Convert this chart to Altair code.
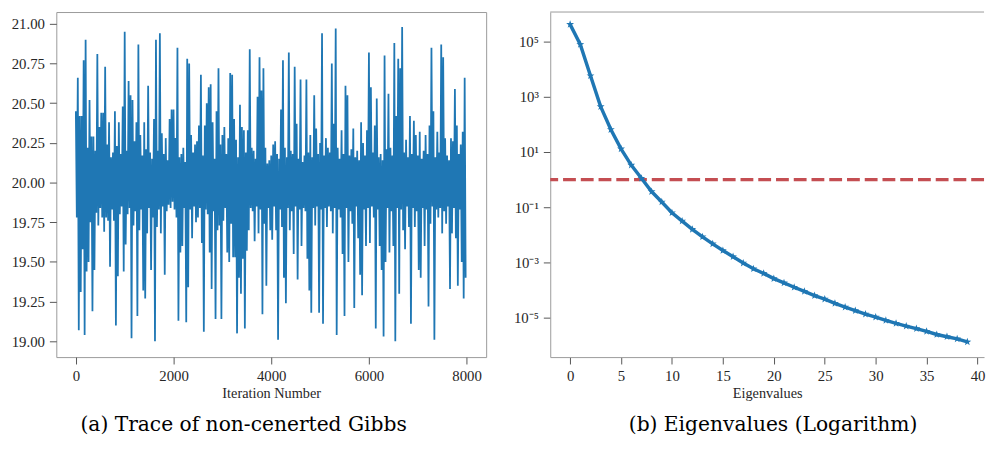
import altair as alt
import pandas as pd

# ---------------- data ----------------
# Trace of the non-centred Gibbs sampler (8000 iterations), read as
# alternating local maxima / minima every 20 iterations.
trace_high = [
    20.45, 20.66, 20.42, 20.42, 20.77, 20.90, 20.22, 20.52, 20.29, 20.29,
    20.20, 20.81, 20.35, 20.44, 20.44, 20.73, 20.24, 20.38, 20.16, 20.19,
    20.45, 20.23, 20.38, 20.18, 20.48, 20.95, 20.20, 20.64, 20.55, 20.52,
    20.26, 20.38, 20.87, 20.30, 20.17, 20.38, 20.21, 20.61, 20.19, 20.15,
    20.40, 20.90, 20.20, 20.94, 20.31, 20.18, 20.28, 20.14, 20.40, 20.46,
    20.46, 20.28, 20.85, 20.16, 20.18, 20.22, 20.13, 20.78, 20.75, 20.30,
    20.19, 20.24, 20.26, 20.36, 20.68, 20.17, 20.36, 20.50, 20.60, 20.62,
    20.38, 20.15, 20.45, 20.72, 20.24, 20.30, 20.35, 20.18, 20.28, 20.69,
    20.68, 20.40, 20.27, 20.16, 20.49, 20.35, 20.33, 20.19, 20.33, 20.84,
    20.22, 20.20, 20.15, 20.54, 20.79, 20.58, 20.72, 20.22, 20.12, 20.14,
    20.17, 20.24, 20.26, 20.18, 20.15, 20.46, 20.77, 20.22, 20.16, 20.82,
    20.20, 20.18, 20.73, 20.37, 20.15, 20.65, 20.13, 20.17, 20.65, 20.19,
    20.30, 20.16, 20.55, 20.34, 20.18, 20.25, 20.94, 20.17, 20.28, 20.22,
    20.19, 20.75, 20.37, 20.97, 20.22, 20.15, 20.33, 20.18, 20.61, 20.55,
    20.17, 20.21, 20.34, 20.16, 20.20, 20.14, 20.38, 20.25, 20.17, 20.33,
    20.82, 20.60, 20.19, 20.36, 20.53, 20.16, 20.18, 20.14, 20.80, 20.21,
    20.56, 20.22, 20.17, 20.88, 20.42, 20.78, 20.72, 20.98, 20.19, 20.27,
    20.16, 20.42, 20.18, 20.39, 20.30, 20.17, 20.32, 20.15, 20.20, 20.30,
    20.18, 20.36, 20.85, 20.45, 20.16, 20.32, 20.19, 20.87, 20.79, 20.28,
    20.17, 20.14, 20.28, 20.26, 20.59, 20.36, 20.18, 20.24, 20.32, 20.66,
]
trace_low = [
    19.78, 19.07, 19.31, 19.58, 19.04, 19.44, 19.50, 19.75, 19.19, 19.45,
    19.81, 19.73, 19.84, 19.78, 19.69, 19.78, 19.76, 19.47, 19.83, 19.76,
    19.10, 19.41, 19.80, 19.85, 19.44, 19.61, 19.80, 19.84, 19.02, 19.73,
    19.82, 19.16, 19.70, 19.83, 19.32, 19.27, 19.68, 19.84, 19.45, 19.78,
    19.00, 19.72, 19.83, 19.68, 19.85, 19.42, 19.82, 19.86, 19.84, 19.88,
    19.83, 19.78, 19.13, 19.56, 19.60, 19.84, 19.12, 19.34, 19.83, 19.65,
    19.85, 19.75, 19.78, 19.84, 19.62, 19.06, 19.83, 19.80, 19.56, 19.33,
    19.82, 19.14, 19.70, 19.73, 19.14, 19.76, 19.84, 19.56, 19.50, 19.74,
    19.53, 19.53, 19.05, 19.40, 19.30, 19.52, 19.08, 19.57, 19.70, 19.84,
    19.82, 19.63, 19.85, 19.68, 19.83, 19.17, 19.74, 19.35, 19.84, 19.70,
    19.64, 19.85, 19.70, 19.01, 19.83, 19.72, 19.40, 19.24, 19.84, 19.70,
    19.82, 19.55, 19.85, 19.39, 19.83, 19.60, 19.84, 19.82, 19.52, 19.32,
    19.18, 19.84, 19.73, 19.85, 19.18, 19.83, 19.11, 19.84, 19.72, 19.85,
    19.82, 19.68, 19.84, 19.04, 19.83, 19.78, 19.55, 19.16, 19.84, 19.50,
    19.82, 19.74, 19.21, 19.85, 19.65, 19.42, 19.29, 19.83, 19.60, 19.84,
    19.62, 19.85, 19.78, 19.08, 19.83, 19.60, 19.45, 19.03, 19.50, 19.84,
    19.56, 19.82, 19.60, 19.00, 19.84, 19.30, 19.83, 19.70, 19.58, 19.85,
    19.72, 19.11, 19.84, 19.72, 19.82, 19.45, 19.40, 19.84, 19.60, 19.83,
    19.22, 19.74, 19.85, 19.01, 19.83, 19.78, 19.84, 19.68, 19.82, 19.74,
    19.85, 19.33, 19.68, 19.84, 19.65, 19.35, 19.83, 19.50, 19.27, 19.40,
]
trace_step = 20

trace_y_ticks = [19.0, 19.25, 19.5, 19.75, 20.0, 20.25, 20.5, 20.75, 21.0]
trace_x_ticks = [0, 2000, 4000, 6000, 8000]

eig_index = list(range(40))
eig_values = [
    4.2e5, 7.9e4, 5.8e3, 4.4e2, 65.0, 13.0, 3.35, 1.12, 0.37, 0.155,
    0.063, 0.0316, 0.0158, 0.0085, 0.0047, 0.0027, 0.00162, 0.00095, 0.00059, 0.0004,
    2.6e-4, 1.82e-4, 1.26e-4, 8.9e-5, 6.3e-5, 4.7e-5, 3.3e-5, 2.4e-5, 1.8e-5, 1.35e-5,
    1.05e-5, 7.9e-6, 6.2e-6, 4.9e-6, 4.0e-6, 3.2e-6, 2.45e-6, 2.04e-6, 1.7e-6, 1.32e-6,
]
eig_threshold = [1.0]
eig_y_ticks = [1e5, 1e3, 1e1, 1e-1, 1e-3, 1e-5]
eig_x_ticks = [0, 5, 10, 15, 20, 25, 30, 35, 40]

caption_a = "(a) Trace of non-cenerted Gibbs"
caption_b = "(b) Eigenvalues (Logarithm)"

# ---------------- tables ----------------
rows = []
for i, (hi, lo) in enumerate(zip(trace_high, trace_low)):
    rows.append({"iteration": 2 * i * trace_step, "value": hi})
    rows.append({"iteration": (2 * i + 1) * trace_step, "value": lo})
trace_df = pd.DataFrame(rows)

eig_df = pd.DataFrame({"index": eig_index, "eig": eig_values})
thr_df = pd.DataFrame({"thr": eig_threshold})

# ---------------- styling ----------------
FONT = "Liberation Serif"
CAP_FONT = "DejaVu Serif"
LABEL_COLOR = "#262626"
TICK_COLOR = "#555555"
FRAME_COLOR = "#9a9a9a"
BLUE = "#1f77b4"
RED = "#c44e52"

STAR = ("M0,-1L0.235,-0.324L0.951,-0.309L0.38,0.124L0.588,0.809L0,0.4"
        "L-0.588,0.809L-0.38,0.124L-0.951,-0.309L-0.235,-0.324Z")

def axis(**kw):
    base = dict(
        grid=False, labelFont=FONT, labelFontSize=15, labelColor=LABEL_COLOR,
        tickColor=TICK_COLOR, tickSize=7, tickWidth=1, labelPadding=5,
        titleFont=FONT, titleFontSize=14.5, titleFontWeight="normal",
        titleColor=LABEL_COLOR, domainColor=FRAME_COLOR, domainWidth=1,
    )
    base.update(kw)
    return alt.Axis(**base)

CAPTION = dict(orient="bottom", anchor="middle", font=CAP_FONT, fontSize=20.5,
               fontWeight="normal", color="black", offset=15)

RIGHT_W = 440

# ---------------- left panel ----------------
left = alt.Chart(trace_df).mark_line(color=BLUE, strokeWidth=1.8, clip=True).encode(
    x=alt.X("iteration:Q",
            scale=alt.Scale(domain=[-400, 8400], nice=False, zero=False),
            axis=axis(values=trace_x_ticks, format="d", title="Iteration Number",
                      domain=False, titlePadding=3)),
    y=alt.Y("value:Q",
            scale=alt.Scale(domain=[18.9006, 21.0745], nice=False, zero=False),
            axis=axis(values=trace_y_ticks, format=".2f", title=None, domain=False)),
).properties(
    width=436, height=350,
    view=alt.ViewBackground(stroke=FRAME_COLOR, strokeWidth=1),
    title=alt.TitleParams(caption_a, dx=-28, **CAPTION),
)

# ---------------- right panel ----------------
xs = alt.Scale(domain=[-1.95, 40.64], nice=False, zero=False)
ys = alt.Scale(type="log", domain=[3.725e-7, 1.178e6], nice=False)

label_expr = ("datum.value > 1e4 ? '10\u2075' : datum.value > 1e2 ? '10\u00b3' : "
              "datum.value > 1 ? '10\u00b9' : datum.value > 1e-2 ? '10\u207b\u00b9' : "
              "datum.value > 1e-4 ? '10\u207b\u00b3' : '10\u207b\u2075'")

base_r = alt.Chart(eig_df)
eig_line = base_r.mark_line(color=BLUE, strokeWidth=3.5).encode(
    x=alt.X("index:Q", scale=xs,
            axis=axis(values=eig_x_ticks, format="d", title="Eigenvalues", titlePadding=3)),
    y=alt.Y("eig:Q", scale=ys,
            axis=axis(values=eig_y_ticks, labelExpr=label_expr, title=None)),
)
eig_pts = base_r.mark_point(shape=STAR, filled=True, color=BLUE, size=70, opacity=1).encode(
    x=alt.X("index:Q", scale=xs),
    y=alt.Y("eig:Q", scale=ys),
)
thr = alt.Chart(thr_df).mark_rule(color=RED, strokeWidth=3.5, strokeDash=[13, 5]).encode(
    y=alt.Y("thr:Q", scale=ys),
)
top_border = alt.Chart(thr_df).mark_rule(color=FRAME_COLOR, strokeWidth=1).encode(
    x=alt.value(0), x2=alt.value(RIGHT_W), y=alt.value(0),
)

right = alt.layer(thr, eig_line, eig_pts, top_border).properties(
    width=RIGHT_W, height=350,
    view=alt.ViewBackground(stroke="transparent"),
    title=alt.TitleParams(caption_b, dx=6, **CAPTION),
)

chart = alt.hconcat(left, right, spacing=65, bounds="flush").properties(
    padding={"left": 2, "top": 0, "right": 0, "bottom": 0},
).configure_view(stroke="transparent")

chart.save("out.html", embed_options={"renderer": "svg", "actions": False})
